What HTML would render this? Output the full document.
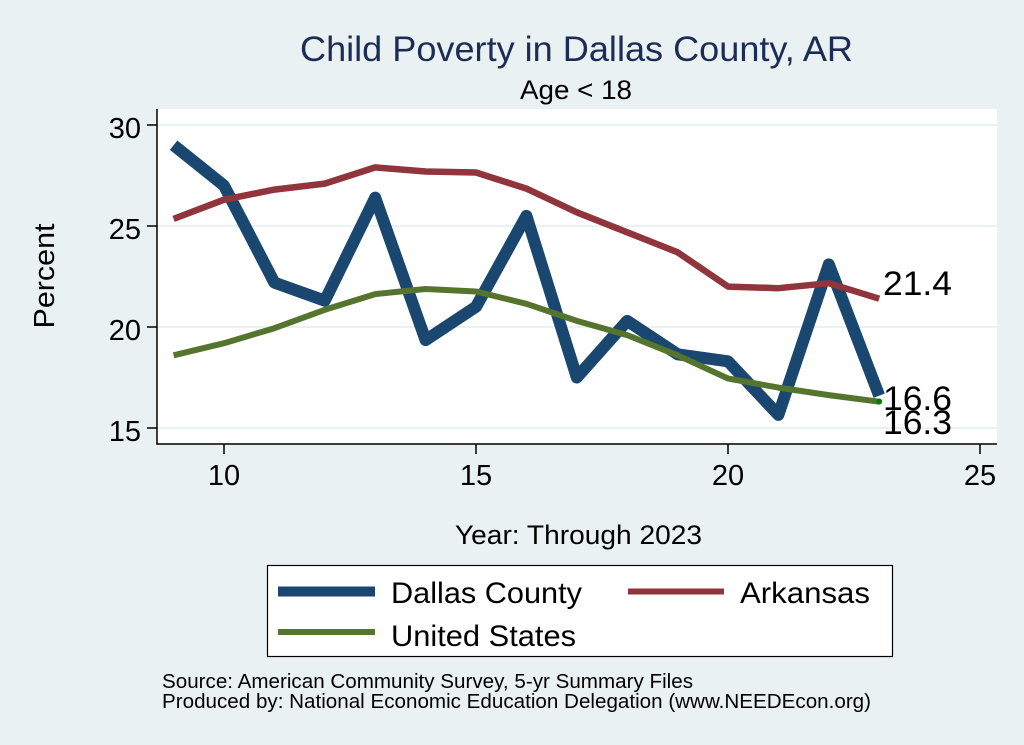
<!DOCTYPE html>
<html>
<head>
<meta charset="utf-8">
<style>
  html, body { margin:0; padding:0; background:#eaf1f3; }
  svg { display:block; }
  text { font-family: "Liberation Sans", Arial, sans-serif; }
</style>
</head>
<body>
<svg width="1024" height="745" viewBox="0 0 1024 745" xmlns="http://www.w3.org/2000/svg">
  <rect x="0" y="0" width="1024" height="745" fill="#eaf1f3"/>
  <!-- plot region -->
  <rect x="157" y="109" width="840" height="335" fill="#ffffff"/>
  <!-- grid lines -->
  <g stroke="#eaf1f3" stroke-width="2">
    <line x1="157" y1="125" x2="997" y2="125"/>
    <line x1="157" y1="226" x2="997" y2="226"/>
    <line x1="157" y1="327" x2="997" y2="327"/>
    <line x1="157" y1="428" x2="997" y2="428"/>
  </g>
  <!-- axes -->
  <g stroke="#000" stroke-width="1.5" fill="none">
    <line x1="157" y1="109" x2="157" y2="444.5"/>
    <line x1="156.3" y1="444" x2="997" y2="444"/>
    <line x1="147" y1="125" x2="157" y2="125"/>
    <line x1="147" y1="226" x2="157" y2="226"/>
    <line x1="147" y1="327" x2="157" y2="327"/>
    <line x1="147" y1="428" x2="157" y2="428"/>
    <line x1="224" y1="444" x2="224" y2="454"/>
    <line x1="476" y1="444" x2="476" y2="454"/>
    <line x1="728" y1="444" x2="728" y2="454"/>
    <line x1="980" y1="444" x2="980" y2="454"/>
  </g>
  <!-- y tick labels -->
  <g font-size="29" fill="#000" text-anchor="end">
    <text x="141" y="138">30</text>
    <text x="141" y="239">25</text>
    <text x="141" y="340">20</text>
    <text x="141" y="441">15</text>
  </g>
  <!-- x tick labels -->
  <g font-size="29" fill="#000" text-anchor="middle">
    <text x="224" y="485">10</text>
    <text x="476" y="485">15</text>
    <text x="728" y="485">20</text>
    <text x="980" y="485">25</text>
  </g>
  <!-- axis titles -->
  <text x="54" y="276" font-size="29" fill="#000" text-anchor="middle" textLength="105" lengthAdjust="spacingAndGlyphs" transform="rotate(-90 54 276)">Percent</text>
  <text x="455" y="544" font-size="27" fill="#000" textLength="247" lengthAdjust="spacingAndGlyphs">Year: Through 2023</text>
  <!-- title -->
  <text x="300" y="61" font-size="35" fill="#1c2d55" textLength="553" lengthAdjust="spacingAndGlyphs">Child Poverty in Dallas County, AR</text>
  <text x="520" y="99" font-size="27" fill="#000" textLength="112" lengthAdjust="spacingAndGlyphs">Age &lt; 18</text>

  <!-- series -->
  <polyline fill="none" stroke="#1a476f" stroke-width="12" stroke-linejoin="round" stroke-linecap="butt"
    points="173.6,145.2 224,185.6 274.4,282.6 324.8,300.7 375.2,197.7 425.6,340.1 476,306.8 526.4,215.9 576.8,377.5 627.2,320.9 677.6,354.3 728,361.3 778.4,414.9 828.8,264.4 879.2,395.7"/>
  <polyline fill="none" stroke="#90353b" stroke-width="6.5" stroke-linejoin="round" stroke-linecap="butt"
    points="173.6,218.9 224,199.7 274.4,189.6 324.8,183.6 375.2,167.4 425.6,171.5 476,172.5 526.4,188.6 576.8,212.3 627.2,232.3 677.6,252.3 728,286.6 778.4,288.2 828.8,283.2 879.2,298.7"/>
  <polyline fill="none" stroke="#55752f" stroke-width="6" stroke-linejoin="round" stroke-linecap="butt"
    points="173.6,355.3 224,343.2 274.4,328.2 324.8,309.8 375.2,294.1 425.6,289.0 476,291.5 526.4,303.8 576.8,320.9 627.2,335.1 677.6,355.3 728,378.5 778.4,387.6 828.8,395.1 879.2,401.7"/>
  <circle cx="879.2" cy="401.5" r="3" fill="#008000"/>

  <!-- end labels -->
  <g font-size="34" fill="#000">
    <text x="883" y="295" textLength="69" lengthAdjust="spacingAndGlyphs">21.4</text>
    <text x="883" y="410" textLength="69" lengthAdjust="spacingAndGlyphs">16.6</text>
    <text x="883" y="434" textLength="69" lengthAdjust="spacingAndGlyphs">16.3</text>
  </g>

  <!-- legend -->
  <rect x="267.5" y="565.5" width="625" height="91" fill="#ffffff" stroke="#000" stroke-width="1.2"/>
  <line x1="278" y1="591.5" x2="375" y2="591.5" stroke="#1a476f" stroke-width="10"/>
  <line x1="628" y1="591.5" x2="724" y2="591.5" stroke="#90353b" stroke-width="6"/>
  <line x1="278" y1="632" x2="375" y2="632" stroke="#55752f" stroke-width="6"/>
  <g font-size="30" fill="#000">
    <text x="391" y="603" textLength="191" lengthAdjust="spacingAndGlyphs">Dallas County</text>
    <text x="740" y="603" textLength="130" lengthAdjust="spacingAndGlyphs">Arkansas</text>
    <text x="391" y="646" textLength="185" lengthAdjust="spacingAndGlyphs">United States</text>
  </g>

  <!-- source notes -->
  <g font-size="20" fill="#000">
    <text x="162" y="688" textLength="531" lengthAdjust="spacingAndGlyphs">Source: American Community Survey, 5-yr Summary Files</text>
    <text x="162" y="708" textLength="709" lengthAdjust="spacingAndGlyphs">Produced by: National Economic Education Delegation (www.NEEDEcon.org)</text>
  </g>
</svg>
</body>
</html>
